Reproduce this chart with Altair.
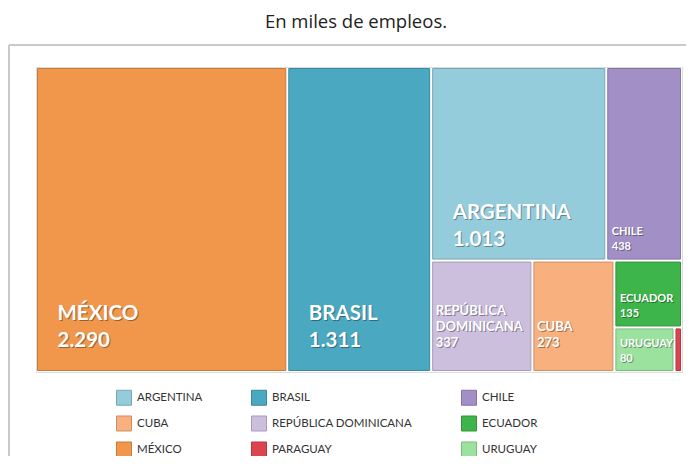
import altair as alt
import pandas as pd

# ---- data (miles de empleos) ----
paises = ["MÉXICO", "BRASIL", "ARGENTINA", "CHILE", "REPÚBLICA DOMINICANA",
          "CUBA", "ECUADOR", "URUGUAY", "PARAGUAY"]
valores = [2290, 1311, 1013, 438, 337, 273, 135, 80, 10]

# legend order (as in the reference)
orden_leyenda = ["ARGENTINA", "BRASIL", "CHILE", "CUBA", "REPÚBLICA DOMINICANA",
                 "ECUADOR", "MÉXICO", "PARAGUAY", "URUGUAY"]
colores = ["#95CCDB", "#4AA8C0", "#A28FC6", "#F8B07E", "#CBBFDD",
           "#3EB54B", "#F1974C", "#DC4450", "#9AE29D"]

# nesting of the treemap (slice / dice groups)
estructura = ("cols", ["MÉXICO", "BRASIL",
                       ("rows", [("cols", ["ARGENTINA", "CHILE"]),
                                 ("cols", ["REPÚBLICA DOMINICANA", "CUBA",
                                           ("rows", ["ECUADOR",
                                                     ("cols", ["URUGUAY", "PARAGUAY"])])])])])

W, H = 646, 305
GAP = 1.5
val = dict(zip(paises, valores))


def total(node):
    if isinstance(node, str):
        return val[node]
    return sum(total(c) for c in node[1])


rects = []


def place(node, x, y, w, h):
    if isinstance(node, str):
        rects.append(dict(pais=node, valor=val[node],
                          x0=x + GAP, x1=x + w - GAP, y0=y + GAP, y1=y + h - GAP))
        return
    kind, kids = node
    t = total(node)
    for k in kids:
        f = total(k) / t
        if kind == "cols":
            place(k, x, y, w * f, h)
            x += w * f
        else:
            place(k, x, y, w, h * f)
            y += h * f


place(estructura, 0, 0, W, H)
df = pd.DataFrame(rects)


def fmt(v):
    return f"{v:,}".replace(",", ".")


def darker(hexc, f=0.82):
    r, g, b = (int(hexc[i:i + 2], 16) for i in (1, 3, 5))
    return "#%02x%02x%02x" % (int(r * f), int(g * f), int(b * f))


bordes = [darker(c) for c in colores]

# label lines
lines = []
for r in rects:
    w = r["x1"] - r["x0"]
    h = r["y1"] - r["y0"]
    if w < 30:
        continue
    if w >= 120:
        fs, lh, dx, pad = 20.5, 27, 20, (24 if h > 250 else 13)
        parts = [r["pais"]]
    elif w >= 75:
        fs, lh, dx, pad = 13, 16, 3, 24
        parts = r["pais"].split(" ")
    else:
        fs, lh, dx, pad = 11, 15, 4, 9
        parts = r["pais"].split(" ")
    parts = parts + [fmt(r["valor"])]
    base = r["y1"] - pad
    n = len(parts)
    for i, p in enumerate(parts):
        lines.append(dict(txt=p, x=r["x0"] + dx, y=base - (n - 1 - i) * lh, fs=fs))
lab = pd.DataFrame(lines)

xs = alt.Scale(domain=[0, W])
ys = alt.Scale(domain=[0, H], reverse=True)

rect = alt.Chart(df).mark_rect(strokeWidth=1).encode(
    x=alt.X("x0:Q", scale=xs, axis=None),
    x2="x1:Q",
    y=alt.Y("y0:Q", scale=ys, axis=None),
    y2="y1:Q",
    color=alt.Color("pais:N", scale=alt.Scale(domain=orden_leyenda, range=colores),
                    legend=alt.Legend(title=None, orient="none", legendX=80, legendY=322.5,
                                      columns=3, direction="horizontal", symbolType="square",
                                      symbolSize=225, labelFontSize=11.5, labelFont="Lato",
                                      labelColor="#333333", columnPadding=46, rowPadding=6,
                                      labelOffset=5, padding=0, symbolStrokeWidth=1,
                                      symbolStrokeColor="#00000040", gridAlign="each")),
    stroke=alt.Stroke("pais:N", scale=alt.Scale(domain=orden_leyenda, range=bordes), legend=None),
)

shadow = alt.Chart(lab).mark_text(align="left", baseline="alphabetic", font="Lato",
                                  fontWeight="bold", color="#000000", opacity=0.35,
                                  dx=1, dy=1).encode(
    x=alt.X("x:Q", scale=xs, axis=None),
    y=alt.Y("y:Q", scale=ys, axis=None),
    text="txt:N",
    size=alt.Size("fs:Q", scale=None, legend=None),
)

text = alt.Chart(lab).mark_text(align="left", baseline="alphabetic", font="Lato",
                                fontWeight="bold", color="#ffffff").encode(
    x=alt.X("x:Q", scale=xs, axis=None),
    y=alt.Y("y:Q", scale=ys, axis=None),
    text="txt:N",
    size=alt.Size("fs:Q", scale=None, legend=None),
)

frame_top = alt.Chart(df).mark_rule(color="#c8c8c8", strokeWidth=1.5).encode(
    x=alt.value(-27), x2=alt.value(660), y=alt.value(-22))
frame_left = alt.Chart(df).mark_rule(color="#c8c8c8", strokeWidth=1.5).encode(
    x=alt.value(-27), y=alt.value(-22), y2=alt.value(400))

chart = alt.layer(frame_top, frame_left, rect, shadow, text).properties(
    width=W, height=H,
    padding={"left": 28, "top": 59, "right": 4, "bottom": 84},
    autosize="none",
    title=alt.TitleParams("En miles de empleos.", anchor="middle", fontSize=18.5, font="Open Sans",
                          fontWeight="normal", color="#222222", baseline="alphabetic",
                          offset=-2, dx=-3),
).configure_view(stroke=None).configure(background="white")

chart.save("out.html", embed_options={"renderer": "svg", "actions": False})
